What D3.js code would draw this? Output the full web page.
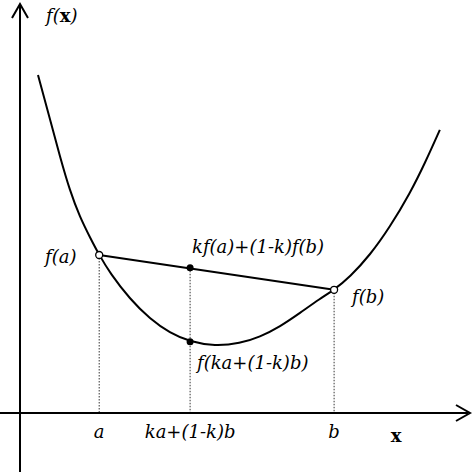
<!DOCTYPE html>
<html><head><meta charset="utf-8">
<script src="https://cdn.jsdelivr.net/npm/d3@7"></script>
<style>body{margin:0;background:#fff}text{font-family:"DejaVu Serif",serif;font-style:italic;font-size:18px}</style>
</head><body><svg id="c" width="474" height="476"></svg>
<script>
// curve
var curveX = [0.4,0.67,0.89,1.11,1.33,1.56,1.76,2.0,2.44,2.89,3.33,3.78,4.33,4.89,5.33,5.78,6.22,6.67,6.98,7.33,7.78,8.22,8.67,9.0,9.33];
var curveY = [8.45,7.33,6.4,5.55,4.9,4.38,3.95,3.5,2.85,2.35,2.0,1.78,1.67,1.74,1.9,2.16,2.5,2.86,3.08,3.4,3.95,4.65,5.5,6.25,7.08];
var pointA = [1.76, 3.95], pointB = [6.98, 3.08];
var kx = 3.78, chordY = 3.63, curveAtK = 1.78;
var tickLabels = ["a", "ka+(1-k)b", "b"];

var x = d3.scaleLinear().domain([0, 10]).range([20, 470]);
var y = d3.scaleLinear().domain([0, 10]).range([413, 13]);
var svg = d3.select("#c");

// axes
svg.append("line").attr("x1", 0).attr("x2", 468).attr("y1", y(0)).attr("y2", y(0)).attr("stroke", "#000").attr("stroke-width", 2);
svg.append("line").attr("x1", x(0)).attr("x2", x(0)).attr("y1", 472).attr("y2", 6).attr("stroke", "#000").attr("stroke-width", 2);
svg.append("path").attr("d", "M456,405 L470,413 L456,421").attr("fill", "none").attr("stroke", "#000").attr("stroke-width", 2);
svg.append("path").attr("d", "M12,18 L20,4 L28,18").attr("fill", "none").attr("stroke", "#000").attr("stroke-width", 2);

// dotted guides
[[pointA[0], pointA[1]], [kx, chordY], [pointB[0], pointB[1]]].forEach(function(p) {
  svg.append("line").attr("x1", x(p[0])).attr("x2", x(p[0])).attr("y1", y(p[1])).attr("y2", y(0))
    .attr("stroke", "#000").attr("stroke-width", 0.8).attr("stroke-dasharray", "1.5,1.5");
});

var pts = curveX.map(function(v, i) { return [v, curveY[i]]; });
svg.append("path").datum(pts)
  .attr("d", d3.line().x(function(d) { return x(d[0]); }).y(function(d) { return y(d[1]); }).curve(d3.curveBasis))
  .attr("fill", "none").attr("stroke", "#000").attr("stroke-width", 2);

svg.append("line").attr("x1", x(pointA[0])).attr("y1", y(pointA[1])).attr("x2", x(pointB[0])).attr("y2", y(pointB[1]))
  .attr("stroke", "#000").attr("stroke-width", 2);

[[kx, chordY], [kx, curveAtK]].forEach(function(p) {
  svg.append("circle").attr("cx", x(p[0])).attr("cy", y(p[1])).attr("r", 3.5).attr("fill", "#000");
});
[pointA, pointB].forEach(function(p) {
  svg.append("circle").attr("cx", x(p[0])).attr("cy", y(p[1])).attr("r", 3.5).attr("fill", "#fff").attr("stroke", "#000").attr("stroke-width", 1.3);
});

// tick labels
[pointA[0], kx, pointB[0]].forEach(function(v, i) {
  svg.append("text").attr("x", x(v)).attr("y", 438).attr("text-anchor", "middle").text(tickLabels[i]);
});
svg.append("text").attr("x", 396).attr("y", 442).attr("text-anchor", "middle").style("font-weight", "bold").style("font-style", "normal").text("x");

svg.append("text").attr("x", 45).attr("y", 263).text("f(a)");
svg.append("text").attr("x", 352).attr("y", 303).text("f(b)");
svg.append("text").attr("x", 192).attr("y", 253).text("kf(a)+(1-k)f(b)");
svg.append("text").attr("x", 197).attr("y", 369).text("f(ka+(1-k)b)");
var fx = svg.append("text").attr("x", 46).attr("y", 22);
fx.append("tspan").text("f(");
fx.append("tspan").style("font-weight", "bold").style("font-style", "normal").text("x");
fx.append("tspan").text(")");
</script></body></html>
